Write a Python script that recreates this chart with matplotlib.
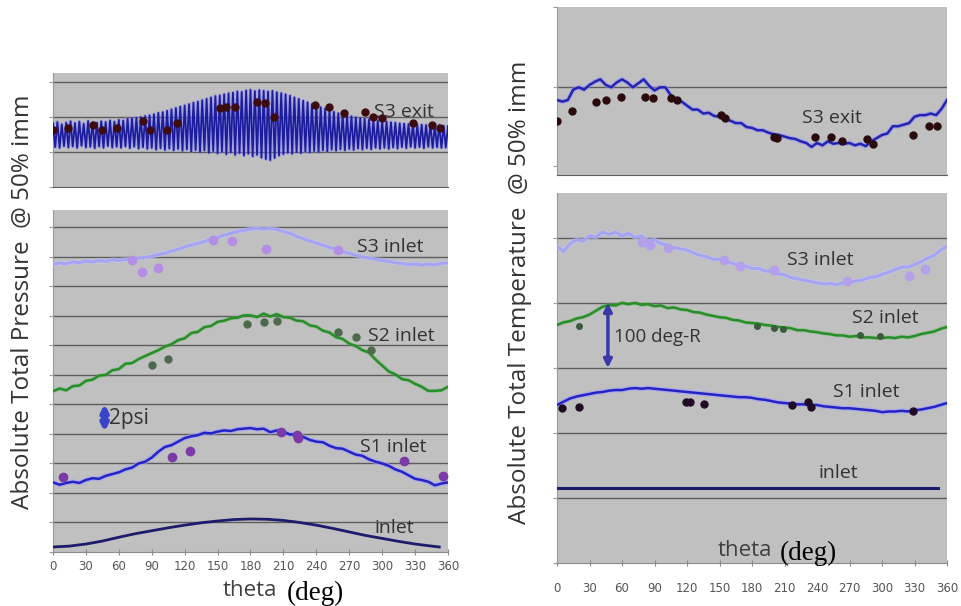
import numpy as np
import matplotlib
matplotlib.use("Agg")
import matplotlib.pyplot as plt

# ---------------- data ----------------
THETA_TICKS = [0, 30, 60, 90, 120, 150, 180, 210, 240, 270, 300, 330, 360]

# Left top: S3 exit pressure (dense oscillation), step 2 deg
S3EXIT_L = [1.82, 1.14, 1.86, 1.12, 1.79, 1.17, 1.84, 1.13, 1.88, 1.16,
            1.83, 1.12, 1.87, 1.18, 1.81, 1.13, 1.89, 1.15, 1.85, 1.11,
            1.84, 1.16, 1.88, 1.12, 1.86, 1.17, 1.90, 1.13, 1.87, 1.15,
            1.92, 1.12, 1.90, 1.16, 1.95, 1.11, 1.96, 1.15, 1.98, 1.10,
            2.00, 1.14, 2.03, 1.09, 2.05, 1.12, 2.08, 1.07, 2.12, 1.11,
            2.14, 1.06, 2.18, 1.10, 2.22, 1.05, 2.26, 1.09, 2.30, 1.04,
            2.33, 1.08, 2.37, 1.02, 2.41, 1.06, 2.44, 1.00, 2.48, 1.05,
            2.52, 0.98, 2.56, 1.03, 2.60, 0.96, 2.62, 1.01, 2.65, 0.94,
            2.68, 0.99, 2.70, 0.92, 2.73, 0.97, 2.72, 0.90, 2.76, 0.95,
            2.78, 0.88, 2.74, 0.92, 2.77, 0.84, 2.75, 0.80, 2.73, 0.77,
            2.75, 0.83, 2.71, 0.90, 2.68, 0.94, 2.65, 0.98, 2.61, 0.95,
            2.56, 1.00, 2.52, 0.97, 2.47, 1.02, 2.42, 0.99, 2.37, 1.03,
            2.32, 1.00, 2.28, 1.05, 2.24, 1.02, 2.20, 1.07, 2.15, 1.04,
            2.11, 1.08, 2.08, 1.05, 2.04, 1.09, 2.02, 1.06, 1.99, 1.10,
            1.97, 1.07, 1.95, 1.11, 1.93, 1.08, 1.91, 1.12, 1.90, 1.09,
            1.88, 1.12, 1.87, 1.09, 1.85, 1.13, 1.84, 1.10, 1.82, 1.14,
            1.81, 1.11, 1.80, 1.15, 1.79, 1.12, 1.78, 1.14, 1.78, 1.11,
            1.77, 1.15, 1.78, 1.12, 1.76, 1.14, 1.77, 1.12, 1.75, 1.13,
            1.74]
S3EXIT_L_PT_THETA = [0, 14, 36, 45, 58, 82, 88, 104, 113, 152, 158, 166, 186, 193,
                     201, 239, 252, 265, 284, 292, 300, 328, 345, 353]
S3EXIT_L_PT_VAL = [1.63, 1.69, 1.77, 1.63, 1.69, 1.89, 1.63, 1.63, 1.83, 2.26, 2.29,
                   2.29, 2.43, 2.40, 2.00, 2.34, 2.29, 2.11, 2.14, 2.00, 1.97, 1.83,
                   1.77, 1.69]

# Left bottom: pressure, step 6 deg
S3IN_L = [9.74, 9.80, 9.76, 9.84, 9.80, 9.86, 9.83, 9.88, 9.85, 9.90,
          9.88, 9.92, 9.90, 9.96, 9.98, 10.02, 10.08, 10.12, 10.20, 10.26,
          10.34, 10.40, 10.46, 10.52, 10.60, 10.66, 10.74, 10.80, 10.86, 10.90,
          10.95, 10.97, 10.94, 10.97, 10.93, 10.86, 10.80, 10.70, 10.62, 10.54,
          10.47, 10.40, 10.32, 10.26, 10.18, 10.12, 10.06, 10.00, 9.96, 9.92,
          9.88, 9.85, 9.80, 9.78, 9.74, 9.76, 9.72, 9.76, 9.73, 9.78,
          9.80]
S2IN_L = [5.45, 5.54, 5.48, 5.62, 5.64, 5.80, 5.84, 5.98, 6.00, 6.16,
          6.20, 6.38, 6.40, 6.54, 6.64, 6.74, 6.84, 6.96, 7.04, 7.18,
          7.24, 7.42, 7.46, 7.62, 7.66, 7.80, 7.84, 7.92, 7.94, 8.02,
          8.02, 7.96, 8.08, 7.98, 8.06, 7.96, 7.94, 7.84, 7.82, 7.68,
          7.64, 7.50, 7.44, 7.28, 7.22, 7.06, 6.98, 6.84, 6.76, 6.52,
          6.32, 6.12, 6.02, 5.86, 5.82, 5.70, 5.60, 5.46, 5.46, 5.48,
          5.60]
S1IN_L = [2.36, 2.28, 2.34, 2.38, 2.34, 2.44, 2.50, 2.48, 2.58, 2.64,
          2.70, 2.80, 2.86, 3.00, 3.06, 3.20, 3.40, 3.56, 3.62, 3.74,
          3.86, 3.92, 3.96, 4.04, 4.02, 4.08, 4.12, 4.10, 4.16, 4.18,
          4.20, 4.16, 4.18, 4.06, 4.12, 4.08, 3.98, 4.00, 3.90, 3.80,
          3.74, 3.72, 3.60, 3.52, 3.50, 3.40, 3.30, 3.26, 3.14, 3.06,
          3.00, 2.92, 2.80, 2.72, 2.60, 2.48, 2.44, 2.38, 2.26, 2.32,
          2.36]
INLET_L_THETA = [0, 15, 30, 45, 60, 75, 90, 105, 120, 135, 150, 165, 180, 195,
                 210, 225, 240, 255, 270, 285, 300, 315, 330, 345, 352]
INLET_L = [0.17, 0.20, 0.27, 0.37, 0.50, 0.62, 0.72, 0.82, 0.91, 0.99, 1.05, 1.10,
           1.12, 1.11, 1.07, 1.00, 0.91, 0.80, 0.68, 0.56, 0.46, 0.36, 0.27, 0.20, 0.17]
S3IN_L_PT_THETA = [72, 81, 96, 146, 163, 194, 260]
S3IN_L_PT_VAL = [9.90, 9.50, 9.62, 10.58, 10.54, 10.27, 10.24]
S2IN_L_PT_THETA = [90, 105, 177, 192, 204, 260, 276, 290]
S2IN_L_PT_VAL = [6.34, 6.54, 7.72, 7.79, 7.84, 7.47, 7.30, 6.83]
S1IN_L_PT_THETA = [9, 108, 125, 208, 222, 223, 320, 355]
S1IN_L_PT_VAL = [2.54, 3.22, 3.42, 4.07, 3.97, 3.86, 3.08, 2.58]

# Right top: S3 exit temperature, step 5 deg
S3EXIT_R = [0.83, 0.81, 0.83, 0.96, 0.99, 0.96, 1.02, 1.06, 1.09, 1.02,
            0.99, 1.05, 1.09, 1.05, 0.99, 1.04, 1.09, 1.01, 0.95, 0.99,
            0.99, 0.89, 0.83, 0.81, 0.76, 0.71, 0.71, 0.66, 0.67, 0.63,
            0.62, 0.59, 0.57, 0.54, 0.54, 0.49, 0.48, 0.45, 0.45, 0.42,
            0.40, 0.39, 0.37, 0.35, 0.34, 0.31, 0.29, 0.24, 0.29, 0.26,
            0.31, 0.28, 0.29, 0.28, 0.29, 0.26, 0.28, 0.25, 0.31, 0.35,
            0.39, 0.41, 0.50, 0.50, 0.52, 0.54, 0.62, 0.64, 0.64, 0.66,
            0.64, 0.72, 0.83]
S3EXIT_R_PT_THETA = [0, 14, 36, 45, 59, 81, 89, 105, 111, 151, 155, 200, 203,
                     238, 253, 263, 286, 292, 329, 343, 351]
S3EXIT_R_PT_VAL = [0.56, 0.69, 0.80, 0.83, 0.87, 0.87, 0.86, 0.86, 0.83, 0.64, 0.61,
                   0.37, 0.35, 0.36, 0.36, 0.31, 0.34, 0.28, 0.39, 0.50, 0.50]

# Right bottom: temperature, step 6 deg
S3IN_R = [4.87, 4.79, 4.91, 4.97, 4.95, 5.03, 5.01, 5.09, 5.05, 5.09,
          5.03, 5.07, 5.01, 5.03, 4.95, 4.97, 4.91, 4.89, 4.85, 4.83,
          4.81, 4.77, 4.73, 4.71, 4.67, 4.67, 4.63, 4.61, 4.57, 4.57,
          4.53, 4.53, 4.49, 4.49, 4.45, 4.43, 4.39, 4.37, 4.35, 4.33,
          4.31, 4.29, 4.30, 4.28, 4.31, 4.31, 4.34, 4.35, 4.39, 4.40,
          4.44, 4.47, 4.51, 4.55, 4.55, 4.59, 4.63, 4.69, 4.73, 4.81,
          4.87]
S2IN_R = [3.66, 3.70, 3.72, 3.76, 3.78, 3.82, 3.88, 3.94, 3.97, 3.96,
          4.00, 3.98, 4.00, 3.97, 3.98, 3.95, 3.96, 3.92, 3.93, 3.90,
          3.89, 3.86, 3.85, 3.82, 3.80, 3.78, 3.77, 3.74, 3.73, 3.70,
          3.69, 3.68, 3.66, 3.65, 3.63, 3.62, 3.61, 3.58, 3.58, 3.56,
          3.55, 3.53, 3.52, 3.50, 3.50, 3.48, 3.49, 3.47, 3.47, 3.46,
          3.46, 3.47, 3.46, 3.48, 3.47, 3.49, 3.52, 3.54, 3.56, 3.60,
          3.63]
S1IN_R = [2.43, 2.48, 2.53, 2.56, 2.58, 2.60, 2.62, 2.63, 2.65, 2.66,
          2.66, 2.68, 2.69, 2.68, 2.69, 2.68, 2.67, 2.66, 2.65, 2.64,
          2.63, 2.62, 2.61, 2.60, 2.59, 2.58, 2.57, 2.56, 2.55, 2.55,
          2.54, 2.52, 2.51, 2.49, 2.47, 2.46, 2.45, 2.44, 2.44, 2.43,
          2.43, 2.41, 2.40, 2.39, 2.38, 2.38, 2.37, 2.36, 2.35, 2.34,
          2.32, 2.33, 2.33, 2.34, 2.33, 2.35, 2.36, 2.38, 2.40, 2.43,
          2.46]
INLET_R_THETA = [0, 352]
INLET_R = [1.16, 1.16]
S3IN_R_PT_THETA = [78, 86, 102, 154, 169, 200, 268, 325, 340]
S3IN_R_PT_VAL = [4.94, 4.89, 4.84, 4.66, 4.56, 4.51, 4.34, 4.42, 4.52]
S2IN_R_PT_THETA = [20, 185, 200, 209, 280, 298]
S2IN_R_PT_VAL = [3.64, 3.64, 3.61, 3.60, 3.50, 3.49]
S1IN_R_PT_THETA = [5, 20, 119, 123, 136, 217, 232, 234, 329]
S1IN_R_PT_VAL = [2.38, 2.40, 2.47, 2.47, 2.44, 2.43, 2.47, 2.40, 2.34]

# ---------------- figure ----------------
W, H = 961, 606
fig = plt.figure(figsize=(W / 100, H / 100), dpi=100)
fig.patch.set_facecolor("white")

def px_axes(x0, y0, x1, y1):
    return fig.add_axes([x0 / W, 1 - y1 / H, (x1 - x0) / W, (y1 - y0) / H])

GRAY = "#c0c0c0"
GRID = "#5c5c5c"
LBL = "#333333"

def style(ax, ymax, ngrid, xaxis):
    ax.set_facecolor(GRAY)
    ax.set_xlim(0, 360)
    ax.set_ylim(0, ymax)
    for s in ["top", "right"]:
        ax.spines[s].set_visible(False)
    ax.spines["left"].set_color("#9a9a9a")
    ax.spines["bottom"].set_color(GRID)
    for g in range(1, ngrid + 1):
        ax.axhline(g, color=GRID, lw=1.0, zorder=1)
    ax.set_yticks(range(0, ngrid + 1))
    ax.tick_params(axis="y", direction="out", length=3, color="#9a9a9a", labelleft=False)
    if xaxis:
        ax.set_xticks(THETA_TICKS)
        ax.tick_params(axis="x", direction="inout", length=5, color="#8a8a8a",
                       labelsize=8.5, labelcolor="#555555")
        ax.spines["bottom"].set_color("#8a8a8a")
    else:
        ax.set_xticks([])

def th(n, step):
    return np.arange(n) * step

def halo_line(ax, x, y, color, lw, halo="#b0b0ff", hlw=None, halpha=0.6, z=3):
    if halo is not None:
        ax.plot(x, y, color=halo, lw=hlw or lw + 2.5, alpha=halpha, zorder=z,
                solid_joinstyle="round")
    ax.plot(x, y, color=color, lw=lw, zorder=z + 0.1, solid_joinstyle="round")

def pts(ax, x, y, color, ms):
    ax.plot(x, y, "o", color=color, ms=ms, mec=color, zorder=5, ls="none")

TFONT = dict(family="Open Sans", color=LBL, fontsize=14)

# ---- left top ----
ax1 = px_axes(53, 73, 448, 187)
style(ax1, 3.26, 3, False)
halo_line(ax1, th(len(S3EXIT_L), 2), S3EXIT_L, "#1c1c9c", 1.3, halo="#8080ff", hlw=2.6, halpha=0.5)
pts(ax1, S3EXIT_L_PT_THETA, S3EXIT_L_PT_VAL, "#3c0c10", 5)
ax1.text(293, 2.14, "S3 exit", va="center", ha="left", **TFONT)

# ---- left bottom ----
ax2 = px_axes(53, 210, 448, 552)
style(ax2, 11.59, 11, True)
halo_line(ax2, th(len(S3IN_L), 6), S3IN_L, "#a4a4f2", 2.2, halo="#c8c8ff", hlw=3.5, halpha=0.5)
halo_line(ax2, th(len(S2IN_L), 6), S2IN_L, "#2a8c2a", 1.8, halo="#60c060", hlw=3.0, halpha=0.4)
halo_line(ax2, th(len(S1IN_L), 6), S1IN_L, "#2424c4", 1.8, halo="#a0a0ff", hlw=3.6, halpha=0.6)
halo_line(ax2, INLET_L_THETA, INLET_L, "#1c1c6c", 2.0, halo=None)
pts(ax2, S3IN_L_PT_THETA, S3IN_L_PT_VAL, "#b48ee4", 6)
pts(ax2, S2IN_L_PT_THETA, S2IN_L_PT_VAL, "#4c6a4c", 5)
pts(ax2, S1IN_L_PT_THETA, S1IN_L_PT_VAL, "#7a3aa8", 6)
ax2.annotate("", xy=(47, 5.02), xytext=(47, 4.07),
             arrowprops=dict(arrowstyle="<|-|>", color="#3a44c8", lw=4,
                             mutation_scale=9, shrinkA=0, shrinkB=0), zorder=6)
ax2.text(51, 4.52, "2psi", va="center", ha="left", family="Open Sans",
         color=LBL, fontsize=15)
ax2.text(277, 10.34, "S3 inlet", va="center", ha="left", **TFONT)
ax2.text(287, 7.33, "S2 inlet", va="center", ha="left", **TFONT)
ax2.text(280, 3.56, "S1 inlet", va="center", ha="left", **TFONT)
ax2.text(293, 0.81, "inlet", va="center", ha="left", **TFONT)

# ---- right top ----
ax3 = px_axes(557, 7, 947, 175)
style(ax3, 2.0, 1, False)
ax3.set_ylim(-0.113, 2.0)
ax3.set_yticks([0, 1, 2])
halo_line(ax3, th(len(S3EXIT_R), 5), S3EXIT_R, "#2424b0", 1.8, halo="#9090ff", hlw=3.4, halpha=0.55)
pts(ax3, S3EXIT_R_PT_THETA, S3EXIT_R_PT_VAL, "#2a0a0a", 5)
ax3.text(226, 0.60, "S3 exit", va="center", ha="left", **TFONT)

# ---- right bottom ----
ax4 = px_axes(557, 193, 947, 563)
style(ax4, 5.69, 5, True)
ax4.tick_params(axis="x", pad=11)
halo_line(ax4, th(len(S3IN_R), 6), S3IN_R, "#a4a4f2", 2.2, halo="#c8c8ff", hlw=3.5, halpha=0.5)
halo_line(ax4, th(len(S2IN_R), 6), S2IN_R, "#2a8c2a", 1.8, halo="#60c060", hlw=3.0, halpha=0.4)
halo_line(ax4, th(len(S1IN_R), 6), S1IN_R, "#2424c4", 1.8, halo="#a0a0ff", hlw=3.6, halpha=0.6)
halo_line(ax4, INLET_R_THETA, INLET_R, "#1c1c6c", 2.2, halo=None)
pts(ax4, S3IN_R_PT_THETA, S3IN_R_PT_VAL, "#b4a0ea", 6)
pts(ax4, S2IN_R_PT_THETA, S2IN_R_PT_VAL, "#3c5a3c", 4)
pts(ax4, S1IN_R_PT_THETA, S1IN_R_PT_VAL, "#200a24", 5)
ax4.annotate("", xy=(47, 4.0), xytext=(47, 3.0),
             arrowprops=dict(arrowstyle="<|-|>", color="#3838a8", lw=2.5,
                             mutation_scale=12, shrinkA=0, shrinkB=0), zorder=6)
ax4.text(53, 3.48, "100 deg-R", va="center", ha="left", family="Open Sans",
         color=LBL, fontsize=13.5)
ax4.text(212, 4.66, "S3 inlet", va="center", ha="left", **TFONT)
ax4.text(272, 3.77, "S2 inlet", va="center", ha="left", **TFONT)
ax4.text(255, 2.63, "S1 inlet", va="center", ha="left", **TFONT)
ax4.text(241, 1.38, "inlet", va="center", ha="left", **TFONT)

# ---- axis titles ----
fig.text(23 / W, 1 - 302 / H, "Absolute Total Pressure  @ 50% imm", rotation=90,
         ha="center", va="center", family="Open Sans", fontsize=17.5, color=LBL)
fig.text(520 / W, 1 - 292 / H, "Absolute Total Temperature  @ 50% imm", rotation=90,
         ha="center", va="center", family="Open Sans", fontsize=17.5, color=LBL)

fig.text(250 / W, 1 - 591 / H, "theta", ha="center", va="center",
         family="Open Sans", fontsize=16, color="#404040")
fig.text(315 / W, 1 - 593 / H, "(deg)", ha="center", va="center",
         family="Liberation Serif", fontsize=19.5, color="black")
fig.text(745 / W, 1 - 551 / H, "theta", ha="center", va="center",
         family="Open Sans", fontsize=16, color="#404040")
fig.text(808 / W, 1 - 553 / H, "(deg)", ha="center", va="center",
         family="Liberation Serif", fontsize=19.5, color="black")

fig.savefig("out.png", dpi=100)
